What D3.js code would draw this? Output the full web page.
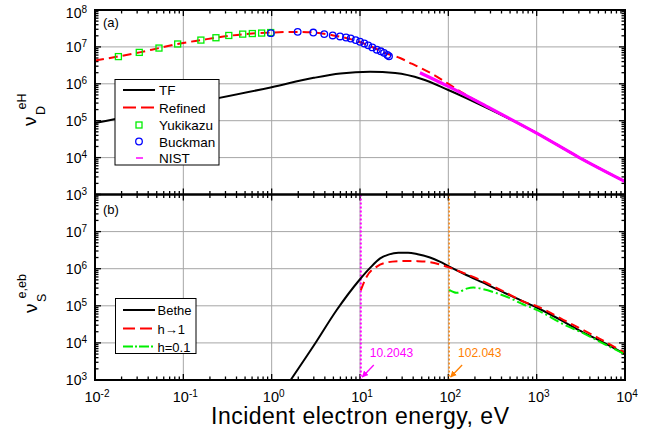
<!DOCTYPE html>
<html>
<head>
<meta charset="utf-8">
<script src="https://cdn.jsdelivr.net/npm/d3@7"></script>
<style>
  body { margin: 0; background: #fff; }
  svg { font-family: "Liberation Sans", Arial, sans-serif; }
</style>
</head>
<body>
<div id="chart"></div>
<script>
// ---- data ----
// panel (a): momentum-transfer collision frequency
var tfE  = [0.01, 0.1, 1, 3, 6, 13, 25, 50, 100, 300, 1000, 3000, 10000];
var tfV  = [8.6e4, 2.65e5, 8.1e5, 1.45e6, 1.9e6, 2.12e6, 1.95e6, 1.35e6, 6.8e5, 2.0e5, 4.6e4, 1.02e4, 2.25e3];

var refE = [0.01, 0.0184, 0.032, 0.053, 0.086, 0.158, 0.33, 0.6, 1, 2, 3, 5, 8, 12, 20, 28.4, 38.5, 50, 70, 100, 150, 300, 1000, 3000, 10000];
var refV = [4.3e6, 5.5e6, 7.1e6, 9.3e6, 1.2e7, 1.53e7, 2.0e7, 2.3e7, 2.45e7, 2.55e7, 2.45e7, 2.05e7, 1.6e7, 1.15e7, 6.6e6, 5.0e6, 3.5e6, 2.6e6, 1.7e6, 1.0e6, 5.4e5, 2.15e5, 4.6e4, 1.02e4, 2.25e3];

var yukE = [0.0184, 0.0317, 0.053, 0.0863, 0.158, 0.234, 0.327, 0.47, 0.604, 0.77, 0.975];
var yukV = [5.46e6, 7.1e6, 9.3e6, 1.2e7, 1.53e7, 1.77e7, 2.04e7, 2.22e7, 2.3e7, 2.37e7, 2.45e7];

var buckE = [0.98, 1.97, 2.96, 3.94, 4.91, 5.94, 6.95, 7.85, 8.94, 10, 11.2, 12.4, 13.8, 15.5, 17.2, 18.7, 20.4, 21.3];
var buckV = [2.36e7, 2.56e7, 2.45e7, 2.22e7, 2.04e7, 1.92e7, 1.8e7, 1.69e7, 1.53e7, 1.38e7, 1.24e7, 1.1e7, 9.7e6, 8.4e6, 7.6e6, 6.9e6, 6.05e6, 5.6e6];

var nistE = [47.7, 100, 300, 1000, 3000, 10000];
var nistV = [2.0e6, 8.5e5, 2.15e5, 4.6e4, 1.02e4, 2.25e3];

// panel (b): stopping frequency
var betheE = [1.64, 3, 5.45, 10, 13, 16.9, 21, 27.2, 35, 45, 62, 80, 100, 150, 272, 500, 1000, 2000, 3000, 5000, 10000];
var betheV = [1e3, 8.5e3, 7.7e4, 5.2e5, 1.05e6, 1.9e6, 2.4e6, 2.7e6, 2.7e6, 2.45e6, 2.0e6, 1.55e6, 1.18e6, 7.3e5, 3.8e5, 1.9e5, 9.0e4, 3.8e4, 2.2e4, 1.2e4, 5.0e3];

var h1E = [10.2043, 11.9, 15.5, 20.9, 27, 33.7, 45, 62, 80, 100, 150, 229, 400, 769, 1000, 2000, 5000, 10000];
var h1V = [2.6e5, 6.1e5, 1.14e6, 1.5e6, 1.6e6, 1.62e6, 1.6e6, 1.5e6, 1.3e6, 1.1e6, 7.6e5, 5.0e5, 2.6e5, 1.2e5, 9.8e4, 4.2e4, 1.35e4, 5.4e3];

var h01E = [102.043, 124, 161, 192, 250, 350, 500, 700, 1000, 2000, 3400, 6000, 10000];
var h01V = [2.7e5, 2.25e5, 2.9e5, 3.1e5, 2.8e5, 2.2e5, 1.6e5, 1.1e5, 7.8e4, 3.2e4, 1.8e4, 9.0e3, 4.9e3];

var thresholds = [10.2043, 102.043];
var thresholdLabels = ["10.2043", "102.043"];
var thresholdColors = ["#ff00ff", "#ff8000"];

var xDecades = [-2, -1, 0, 1, 2, 3, 4];
var yDecades = [3, 4, 5, 6, 7, 8];

var topLegend = ["TF", "Refined", "Yukikazu", "Buckman", "NIST"];
var botLegend = ["Bethe", "h\u21921", "h=0.1"];

// ---- layout ----  (note: "top" is taken by window.top, so use plotTop)
var W = 667, H = 436;
var plotLeft = 95, plotRight = 625, plotTop = 10, plotMid = 194.5, plotBottom = 380;

var svg = d3.select("#chart").append("svg")
  .attr("width", W).attr("height", H);

var x = d3.scaleLog().domain([1e-2, 1e4]).range([plotLeft, plotRight]);
var yTop = d3.scaleLog().domain([1e3, 1e8]).range([plotMid, plotTop]);
var yBot = d3.scaleLog().domain([1e3, 1e8]).range([plotBottom, plotMid]);

var xMajor = xDecades.map(d => Math.pow(10, d));
var yMajor = yDecades.map(d => Math.pow(10, d));
var xMinor = [], yMinor = [];
xDecades.slice(0, -1).forEach(d => { for (var k = 2; k < 10; k++) xMinor.push(k * Math.pow(10, d)); });
yDecades.slice(0, -1).forEach(d => { for (var k = 2; k < 10; k++) yMinor.push(k * Math.pow(10, d)); });

function pairs(E, V) { return E.map((e, i) => [e, V[i]]); }

function panel(y, y0, y1, id) {
  var g = svg.append("g");
  svg.append("clipPath").attr("id", id)
    .append("rect").attr("x", plotLeft).attr("y", y1).attr("width", plotRight - plotLeft).attr("height", y0 - y1);

  // grid
  g.selectAll(".gx").data(xMajor.slice(1, -1)).enter().append("line")
    .attr("x1", d => x(d)).attr("x2", d => x(d)).attr("y1", y0).attr("y2", y1)
    .attr("stroke", "#a6a6a6").attr("stroke-width", 1);
  g.selectAll(".gy").data(yMajor.slice(1, -1)).enter().append("line")
    .attr("x1", plotLeft).attr("x2", plotRight).attr("y1", d => y(d)).attr("y2", d => y(d))
    .attr("stroke", "#a6a6a6").attr("stroke-width", 1);

  // inward ticks on all four sides
  var ticks = g.append("g").attr("stroke", "#000").attr("stroke-width", 1.3);
  [[xMajor, 6], [xMinor, 3.5]].forEach(function(t) {
    ticks.selectAll(null).data(t[0]).enter().append("line")
      .attr("x1", d => x(d)).attr("x2", d => x(d)).attr("y1", y0).attr("y2", y0 - t[1]);
    ticks.selectAll(null).data(t[0]).enter().append("line")
      .attr("x1", d => x(d)).attr("x2", d => x(d)).attr("y1", y1).attr("y2", y1 + t[1]);
  });
  [[yMajor, 6], [yMinor, 3.5]].forEach(function(t) {
    ticks.selectAll(null).data(t[0]).enter().append("line")
      .attr("y1", d => y(d)).attr("y2", d => y(d)).attr("x1", plotLeft).attr("x2", plotLeft + t[1]);
    ticks.selectAll(null).data(t[0]).enter().append("line")
      .attr("y1", d => y(d)).attr("y2", d => y(d)).attr("x1", plotRight).attr("x2", plotRight - t[1]);
  });

  return svg.append("g").attr("clip-path", "url(#" + id + ")");
}

function powLabel(sel, exp) {
  sel.text(null);
  sel.append("tspan").text("10");
  sel.append("tspan").attr("dy", "-0.5em").attr("font-size", "10px").text(exp);
}

var lineFor = y => d3.line().x(d => x(d[0])).y(d => y(d[1])).curve(d3.curveMonotoneX);

// ---- panel (a) ----
var pa = panel(yTop, plotMid, plotTop, "clipA");
pa.append("path").datum(pairs(tfE, tfV)).attr("d", lineFor(yTop))
  .attr("fill", "none").attr("stroke", "#000").attr("stroke-width", 2);
pa.append("path").datum(pairs(refE, refV)).attr("d", lineFor(yTop))
  .attr("fill", "none").attr("stroke", "#ff0000").attr("stroke-width", 2).attr("stroke-dasharray", "9,5");
pa.selectAll(".yuk").data(pairs(yukE, yukV)).enter().append("rect")
  .attr("x", d => x(d[0]) - 3).attr("y", d => yTop(d[1]) - 3).attr("width", 6).attr("height", 6)
  .attr("fill", "none").attr("stroke", "#00ee00").attr("stroke-width", 1.3);
pa.selectAll(".buck").data(pairs(buckE, buckV)).enter().append("circle")
  .attr("cx", d => x(d[0])).attr("cy", d => yTop(d[1])).attr("r", 3.3)
  .attr("fill", "none").attr("stroke", "#0000ff").attr("stroke-width", 1.3);
pa.append("path").datum(pairs(nistE, nistV)).attr("d", lineFor(yTop))
  .attr("fill", "none").attr("stroke", "#ff00ff").attr("stroke-width", 3.2);

// ---- panel (b) ----
var pb = panel(yBot, plotBottom, plotMid, "clipB");
thresholds.forEach(function(t, i) {
  pb.append("line").attr("x1", x(t)).attr("x2", x(t)).attr("y1", plotMid).attr("y2", plotBottom)
    .attr("stroke", thresholdColors[i]).attr("stroke-width", i ? 1.5 : 2).attr("stroke-dasharray", "2,2");
});
pb.append("path").datum(pairs(betheE, betheV)).attr("d", lineFor(yBot))
  .attr("fill", "none").attr("stroke", "#000").attr("stroke-width", 2);
pb.append("path").datum(pairs(h1E, h1V)).attr("d", lineFor(yBot))
  .attr("fill", "none").attr("stroke", "#ff0000").attr("stroke-width", 2).attr("stroke-dasharray", "9,5");
pb.append("path").datum(pairs(h01E, h01V)).attr("d", lineFor(yBot))
  .attr("fill", "none").attr("stroke", "#00ee00").attr("stroke-width", 2).attr("stroke-dasharray", "10,3,2,3");

// threshold annotations with arrows
var defs = svg.append("defs");
thresholdColors.forEach(function(c, i) {
  defs.append("marker").attr("id", "arr" + i).attr("viewBox", "0 0 10 10")
    .attr("refX", 9).attr("refY", 5).attr("markerWidth", 5).attr("markerHeight", 5).attr("orient", "auto")
    .append("path").attr("d", "M0,0L10,5L0,10z").attr("fill", c);
});
thresholds.forEach(function(t, i) {
  var tx = x(t);
  svg.append("text").attr("x", tx + 9).attr("y", 357).attr("font-size", "12px")
    .attr("fill", thresholdColors[i]).text(thresholdLabels[i]);
  svg.append("line").attr("x1", tx + 13).attr("y1", 365).attr("x2", tx + 1.5).attr("y2", 377)
    .attr("stroke", thresholdColors[i]).attr("stroke-width", 1.3).attr("marker-end", "url(#arr" + i + ")");
});

// frames
[[plotTop, plotMid], [plotMid, plotBottom]].forEach(function(p) {
  svg.append("rect").attr("x", plotLeft).attr("y", p[0]).attr("width", plotRight - plotLeft).attr("height", p[1] - p[0])
    .attr("fill", "none").attr("stroke", "#000").attr("stroke-width", 2);
});

// y tick labels
function yLabels(y, vals) {
  var g = svg.append("g").attr("transform", "translate(" + plotLeft + ",0)")
    .attr("font-size", "14px");
  g.selectAll("text").data(vals).enter().append("text")
    .attr("x", -8).attr("y", d => y(d) + (d === 1e8 ? 8 : 5)).attr("text-anchor", "end")
    .each(function(d) { powLabel(d3.select(this), Math.round(Math.log10(d))); });
}
yLabels(yTop, yMajor);
yLabels(yBot, yMajor.slice(0, -1));

// x tick labels
svg.append("g").attr("font-size", "14.5px").selectAll("text").data(xMajor).enter().append("text")
  .attr("x", d => x(d) + 2).attr("y", 401.5).attr("text-anchor", "middle")
  .each(function(d) { powLabel(d3.select(this), Math.round(Math.log10(d))); });

// axis titles
svg.append("text").attr("x", (plotLeft + plotRight) / 2).attr("y", 424).attr("text-anchor", "middle")
  .attr("font-size", "23px").attr("textLength", 298).attr("lengthAdjust", "spacing")
  .text("Incident electron energy, eV");

function yTitle(cx, cy, sup, sub, supX) {
  var g = svg.append("g").attr("transform", "translate(" + cx + "," + cy + ") rotate(-90)");
  g.append("text").attr("x", 0).attr("y", 0).attr("font-size", "19px").text("\u03bd");
  g.append("text").attr("x", supX).attr("y", -10.5).attr("font-size", "12.5px").text(sup);
  g.append("text").attr("x", 11).attr("y", 9).attr("font-size", "12.5px").text(sub);
}
yTitle(36, 126, "eH", "D", 16.5);
yTitle(36.5, 313, "e,eb", "S", 14.5);

// panel letters
svg.append("text").attr("x", 103).attr("y", 27).attr("font-size", "13px").text("(a)");
svg.append("text").attr("x", 103).attr("y", 213.5).attr("font-size", "13px").text("(b)");

// ---- legends ----
var lgA = svg.append("g");
lgA.append("rect").attr("x", 115).attr("y", 79.5).attr("width", 104).attr("height", 85.5)
  .attr("fill", "#fff").attr("stroke", "#000").attr("stroke-width", 1);
var rowsA = [90, 107.5, 125, 141.5, 158];
lgA.append("line").attr("x1", 123).attr("x2", 155).attr("y1", rowsA[0]).attr("y2", rowsA[0])
  .attr("stroke", "#000").attr("stroke-width", 2);
lgA.append("line").attr("x1", 123).attr("x2", 155).attr("y1", rowsA[1]).attr("y2", rowsA[1])
  .attr("stroke", "#ff0000").attr("stroke-width", 2).attr("stroke-dasharray", "13,5");
lgA.append("rect").attr("x", 136).attr("y", rowsA[2] - 3).attr("width", 6).attr("height", 6)
  .attr("fill", "none").attr("stroke", "#00ee00").attr("stroke-width", 1.3);
lgA.append("circle").attr("cx", 139).attr("cy", rowsA[3]).attr("r", 3.3)
  .attr("fill", "none").attr("stroke", "#0000ff").attr("stroke-width", 1.3);
lgA.append("line").attr("x1", 136).attr("x2", 143).attr("y1", rowsA[4]).attr("y2", rowsA[4])
  .attr("stroke", "#ff00ff").attr("stroke-width", 1.5);
lgA.selectAll(".lt").data(topLegend).enter().append("text")
  .attr("x", 159).attr("y", (d, i) => rowsA[i] + 5).attr("font-size", "13.5px").text(d => d);

var lgB = svg.append("g");
lgB.append("rect").attr("x", 115.5).attr("y", 298.5).attr("width", 80.5).attr("height", 55)
  .attr("fill", "#fff").attr("stroke", "#000").attr("stroke-width", 1);
var rowsB = [310, 328.5, 346.5];
var styleB = [["#000", null], ["#ff0000", "12,5"], ["#00ee00", "10,2,2,2"]];
styleB.forEach(function(s, i) {
  lgB.append("line").attr("x1", 123).attr("x2", 155).attr("y1", rowsB[i]).attr("y2", rowsB[i])
    .attr("stroke", s[0]).attr("stroke-width", 2).attr("stroke-dasharray", s[1]);
});
lgB.selectAll(".lt").data(botLegend).enter().append("text")
  .attr("x", 157.5).attr("y", (d, i) => rowsB[i] + 5).attr("font-size", "13px").text(d => d);
</script>
</body>
</html>
